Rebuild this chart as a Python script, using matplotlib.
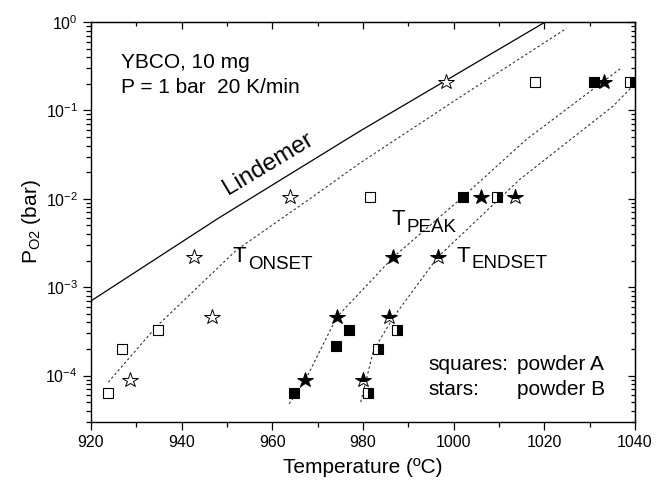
import numpy as np
import matplotlib.pyplot as plt

plt.rcParams['font.family'] = ['Liberation Sans', 'DejaVu Sans']
plt.rcParams['mathtext.fontset'] = 'custom'
plt.rcParams['mathtext.rm'] = 'Liberation Sans'
plt.rcParams['mathtext.it'] = 'Liberation Sans:italic'

# measured points (T in C, P in bar)
onset_sq_T = [923.8, 926.8, 934.7, 981.5, 1018.0]
onset_sq_P = [6.3e-5, 2.0e-4, 3.3e-4, 1.05e-2, 0.21]
onset_st_T = [928.7, 942.8, 946.8, 963.9, 998.4]
onset_st_P = [8.9e-5, 2.2e-3, 4.6e-4, 1.05e-2, 0.21]

peak_sq_T = [964.8, 974.0, 977.0, 1002.0, 1030.9]
peak_sq_P = [6.3e-5, 2.15e-4, 3.3e-4, 1.05e-2, 0.21]
peak_st_T = [967.2, 974.2, 986.7, 1006.0, 1033.2]
peak_st_P = [8.9e-5, 4.6e-4, 2.2e-3, 1.05e-2, 0.21]

end_sq_T = [981.0, 983.2, 987.4, 1009.6, 1038.8]
end_sq_P = [6.3e-5, 2.0e-4, 3.3e-4, 1.05e-2, 0.21]
end_st_T = [980.1, 985.8, 996.5, 1013.5]
end_st_P = [8.9e-5, 4.6e-4, 2.2e-3, 1.05e-2]

# guide curves, log10(P)
lind_T = [920.0, 948.1, 979.3, 1020.2]
lind_logP = [-3.156, -2.22, -1.235, 0.0]
onset_fit_T = [923.8, 934.5, 952.1, 968.3, 979.3, 1002.0, 1024.9]
onset_fit_logP = [-4.076, -3.443, -2.58, -2.0, -1.597, -0.83, -0.072]
peak_fit_T = [963.7, 967.2, 974.2, 986.7, 1002.0, 1016.0, 1036.7]
peak_fit_logP = [-4.32, -4.06, -3.34, -2.66, -1.98, -1.33, -0.53]
end_fit_T = [979.5, 982.3, 986.7, 996.5, 1014.6, 1035.2, 1039.6]
end_fit_logP = [-4.3, -3.72, -3.34, -2.66, -1.78, -0.95, -0.72]

fig = plt.figure(figsize=(6.56, 4.87), dpi=100)
ax = fig.add_axes([0.1387, 0.134, 0.8293, 0.8208])

ax.plot(lind_T, 10 ** np.array(lind_logP), color='black', lw=0.9)
dot = dict(color='#333333', lw=0.8, ls=(0, (2.2, 2.2)))
ax.plot(onset_fit_T, 10 ** np.array(onset_fit_logP), **dot)
ax.plot(peak_fit_T, 10 ** np.array(peak_fit_logP), **dot)
ax.plot(end_fit_T, 10 ** np.array(end_fit_logP), **dot)

sq = dict(ls='none', marker='s', ms=7.5, mec='black', mew=0.8)
st = dict(ls='none', marker='*', ms=11.5, mec='black', mew=0.7)
ax.plot(onset_sq_T, onset_sq_P, mfc='white', **sq)
ax.plot(onset_st_T, onset_st_P, mfc='white', **st)
ax.plot(peak_sq_T, peak_sq_P, mfc='black', **sq)
ax.plot(peak_st_T, peak_st_P, mfc='black', **st)
ax.plot(end_sq_T, end_sq_P, mfc='black', mfcalt='white', fillstyle='right',
        ls='none', marker='s', ms=6.5, mec='black', mew=0.8)
ax.plot(end_st_T, end_st_P, mfc='black', mfcalt='white', fillstyle='top', **st)

ax.set_yscale('log')
ax.set_xlim(920, 1040)
ax.set_ylim(3e-5, 1)
ax.set_xticks(np.arange(920, 1041, 20))
ax.set_xticks(np.arange(930, 1040, 20), minor=True)
ax.tick_params(which='both', direction='out', labelsize=11.5, width=0.9)
ax.tick_params(which='major', length=6)
ax.tick_params(which='minor', length=3.5)
for s in ax.spines.values():
    s.set_linewidth(1.0)

# mirrored ticks pointing inward on top and right
top = ax.secondary_xaxis('top')
top.set_xticks(np.arange(920, 1041, 20))
top.set_xticks(np.arange(930, 1040, 20), minor=True)
top.tick_params(which='both', direction='in', labeltop=False, width=0.9)
top.tick_params(which='major', length=5)
top.tick_params(which='minor', length=3)
right = ax.secondary_yaxis('right')
right.tick_params(which='both', direction='in', labelright=False, width=0.9)
right.tick_params(which='major', length=5)
right.tick_params(which='minor', length=3)

ax.set_xlabel('Temperature (ºC)', fontsize=15, labelpad=6)
ax.set_ylabel(r'P$_{\mathrm{O2}}$ (bar)', fontsize=15, labelpad=2)

ax.text(0.056, 0.886, 'YBCO, 10 mg', transform=ax.transAxes, fontsize=15)
ax.text(0.056, 0.822, 'P = 1 bar  20 K/min', transform=ax.transAxes, fontsize=15)

ax.text(959.0, 10 ** -1.60, 'Lindemer', fontsize=17.5, rotation=31,
        ha='center', va='center')

ax.text(951.3, 10 ** -2.716, 'T', fontsize=16)
ax.text(954.6, 10 ** -2.795, 'ONSET', fontsize=13.5)
ax.text(986.3, 10 ** -2.295, 'T', fontsize=16)
ax.text(989.6, 10 ** -2.372, 'PEAK', fontsize=13.5)
ax.text(1000.7, 10 ** -2.712, 'T', fontsize=16)
ax.text(1004.0, 10 ** -2.78, 'ENDSET', fontsize=13.5)

ax.text(0.62, 0.129, 'squares:', transform=ax.transAxes, fontsize=15)
ax.text(0.783, 0.129, 'powder A', transform=ax.transAxes, fontsize=15)
ax.text(0.62, 0.067, 'stars:', transform=ax.transAxes, fontsize=15)
ax.text(0.783, 0.067, 'powder B', transform=ax.transAxes, fontsize=15)

fig.savefig('out.png', dpi=100)
